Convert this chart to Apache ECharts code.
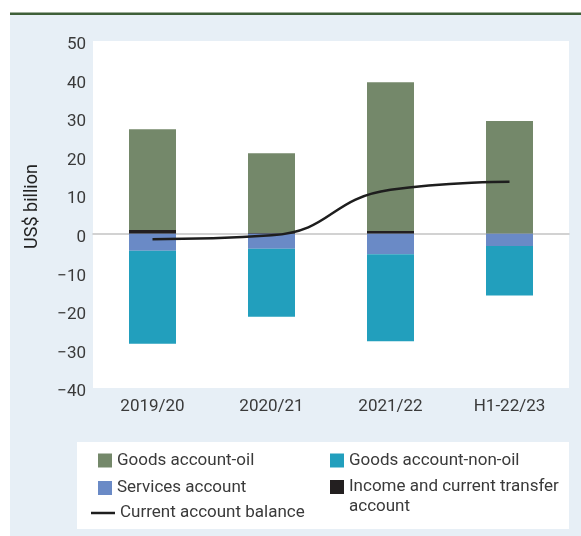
<!DOCTYPE html>
<html>
<head>
<meta charset="utf-8">
<script src="https://cdn.jsdelivr.net/npm/echarts@6/dist/echarts.min.js"></script>
<style>
html,body{margin:0;padding:0;background:#fff;}
#c{width:581px;height:536px;}
</style>
</head>
<body>
<div id="c"></div>
<script>
const categories = ['2019/20', '2020/21', '2021/22', 'H1-22/23'];
const goodsOil = [26.1, 20.7, 38.6, 29.2];
const goodsNonOil = [-24.1, -17.6, -22.6, -12.8];
const services = [-4.4, -3.9, -5.3, -3.2];
const incomeTransfer = [1.0, 0.2, 0.7, 0.05];
const currentAccount = [-1.4, -0.4, 11.4, 13.5];
const yTicks = [-40, -30, -20, -10, 0, 10, 20, 30, 40, 50];

const FONT = "'Liberation Sans Narrow', 'Roboto', sans-serif";
const TXT = '#3a3a3a';
const FS = 17;

const chart = echarts.init(document.getElementById('c'), null, {renderer: 'canvas'});
const legendText = {fontFamily: FONT, fontSize: FS, color: TXT, lineHeight: 20};
const legendBase = {orient: 'vertical', padding: 0, itemWidth: 14, itemHeight: 14, icon: 'rect', textStyle: legendText};

chart.setOption({
  backgroundColor: '#ffffff',
  animation: false,
  graphic: [
    {type: 'rect', z: -10, shape: {x: 10, y: 15, width: 571, height: 521}, style: {fill: '#e7eff6'}},
    {type: 'rect', z: -9, shape: {x: 10, y: 12.5, width: 571, height: 2.5}, style: {fill: '#3e5f38'}},
    {type: 'rect', z: -9, shape: {x: 77, y: 442, width: 492, height: 87}, style: {fill: '#ffffff'}}
  ],
  grid: {left: 93, right: 12, top: 41, bottom: 148, show: true, backgroundColor: '#ffffff', borderWidth: 0},
  legend: [
    Object.assign({}, legendBase, {left: 98, top: 450.5, data: ['Goods account-oil']}),
    Object.assign({}, legendBase, {left: 98, top: 478, data: ['Services account']}),
    Object.assign({}, legendBase, {left: 91, top: 503, itemWidth: 24, itemHeight: 2.5,
      data: [{name: 'Current account balance', icon: 'rect', itemStyle: {color: '#1e1e1e'}}]}),
    Object.assign({}, legendBase, {left: 330, top: 450.5, data: ['Goods account-non-oil']}),
    Object.assign({}, legendBase, {left: 330, top: 457,
      formatter: function (n) { return '\u00a0\nIncome and current transfer\naccount'; },
      data: ['Income and current transfer account']})
  ],
  xAxis: {
    type: 'category', data: categories,
    axisLine: {show: true, onZero: true, lineStyle: {color: '#c4c4c4', width: 1.5}},
    axisTick: {show: false},
    axisLabel: {fontFamily: FONT, fontSize: FS, color: TXT, margin: 10, interval: 0}
  },
  yAxis: {
    type: 'value', min: -40, max: 50, interval: 10,
    name: 'US$ billion', nameLocation: 'middle', nameGap: 52,
    nameTextStyle: {fontFamily: FONT, fontSize: 18, color: '#222', padding: [0, 0, 0, 16]},
    axisLine: {show: false}, axisTick: {show: false}, splitLine: {show: false},
    axisLabel: {fontFamily: FONT, fontSize: FS, color: TXT, margin: 7,
      formatter: function (v) { return yTicks.indexOf(v) >= 0 ? '{a|' + String(v).replace('-', '\u2212') + '}' : ''; },
      rich: {a: {fontFamily: FONT, fontSize: FS, color: TXT, padding: [8, 0, 0, 0]}}}
  },
  series: [
    {name: 'Income and current transfer account', type: 'bar', stack: 'a', barWidth: 47, data: incomeTransfer, itemStyle: {color: '#231f20'}},
    {name: 'Goods account-oil', type: 'bar', stack: 'a', data: goodsOil, itemStyle: {color: '#74886a'}},
    {name: 'Services account', type: 'bar', stack: 'a', data: services, itemStyle: {color: '#6a8ac6'}},
    {name: 'Goods account-non-oil', type: 'bar', stack: 'a', data: goodsNonOil, itemStyle: {color: '#229fbd'}},
    {name: 'Current account balance', type: 'line', data: currentAccount, smooth: 0.5, symbol: 'none',
     lineStyle: {color: '#1e1e1e', width: 2.5}, itemStyle: {color: '#1e1e1e'}, z: 5}
  ]
});
</script>
</body>
</html>
